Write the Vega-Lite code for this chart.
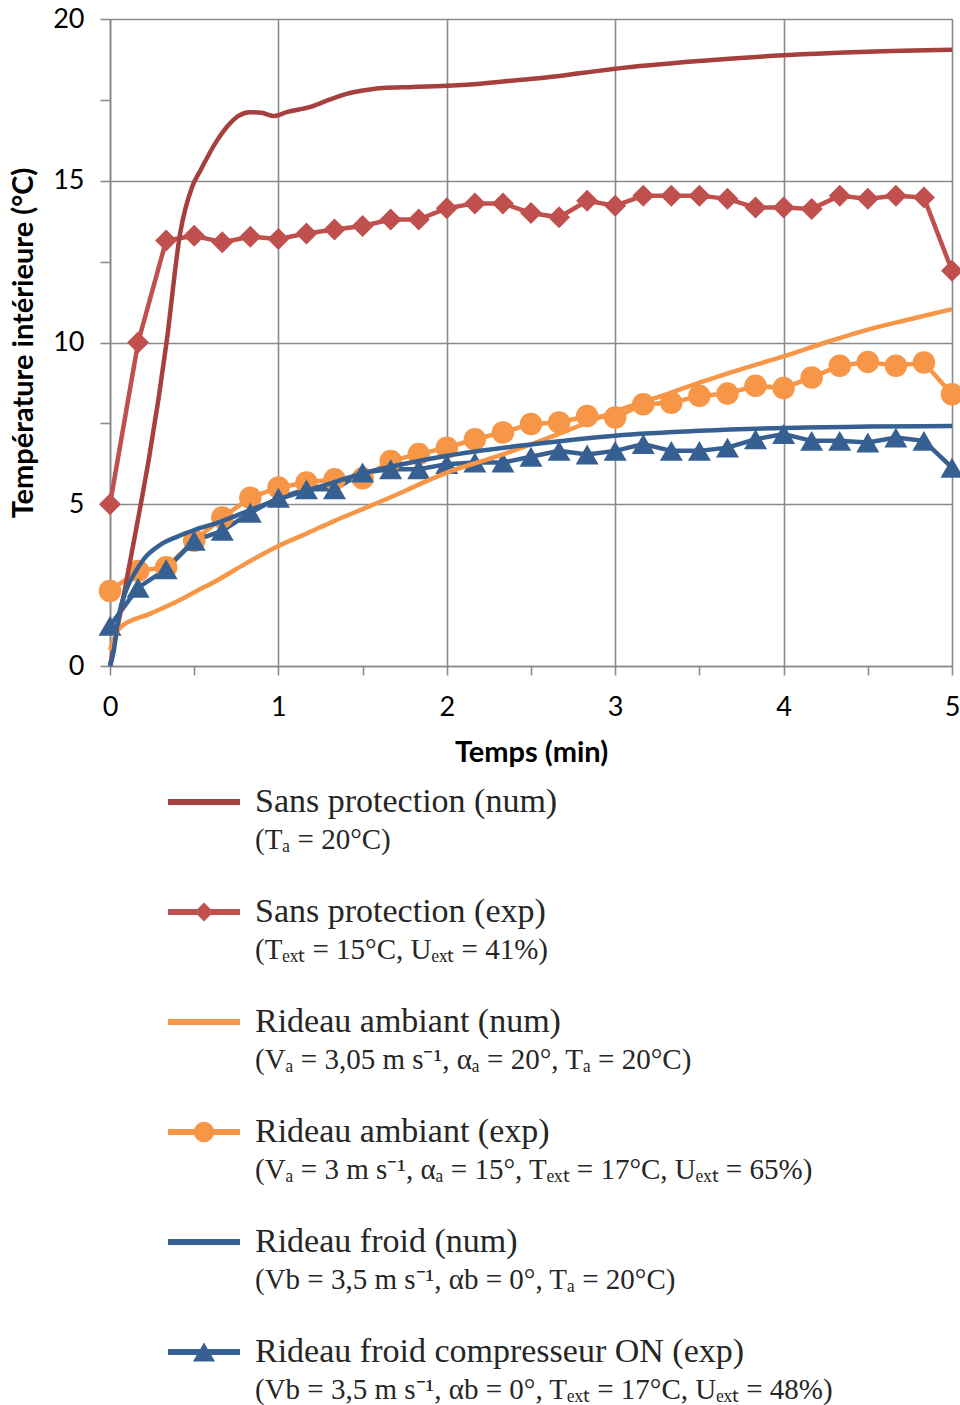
{
  "$schema": "https://vega.github.io/schema/vega-lite/v6.json",
  "background": "white",
  "padding": {"left": 9, "top": 5, "right": 0, "bottom": 0},
  "bounds": "flush",
  "spacing": 81,
  "config": {"view": {"stroke": null}},
  "resolve": {"scale": {"x": "independent", "y": "independent", "color": "independent", "shape": "independent", "size": "independent"}},
  "datasets": {
    "series": [
      {"serie": "Sans protection (num)", "kind": "num", "t": 0, "v": 0},
      {"serie": "Sans protection (num)", "kind": "num", "t": 0.09, "v": 2.42},
      {"serie": "Sans protection (num)", "kind": "num", "t": 0.337, "v": 10.05},
      {"serie": "Sans protection (num)", "kind": "num", "t": 0.416, "v": 13.36},
      {"serie": "Sans protection (num)", "kind": "num", "t": 0.487, "v": 14.8},
      {"serie": "Sans protection (num)", "kind": "num", "t": 0.535, "v": 15.3},
      {"serie": "Sans protection (num)", "kind": "num", "t": 0.635, "v": 16.24},
      {"serie": "Sans protection (num)", "kind": "num", "t": 0.7, "v": 16.7},
      {"serie": "Sans protection (num)", "kind": "num", "t": 0.76, "v": 17.0},
      {"serie": "Sans protection (num)", "kind": "num", "t": 0.83, "v": 17.12},
      {"serie": "Sans protection (num)", "kind": "num", "t": 0.9, "v": 17.1},
      {"serie": "Sans protection (num)", "kind": "num", "t": 0.97, "v": 17.0},
      {"serie": "Sans protection (num)", "kind": "num", "t": 1.05, "v": 17.12},
      {"serie": "Sans protection (num)", "kind": "num", "t": 1.2, "v": 17.3},
      {"serie": "Sans protection (num)", "kind": "num", "t": 1.3, "v": 17.5},
      {"serie": "Sans protection (num)", "kind": "num", "t": 1.4, "v": 17.68},
      {"serie": "Sans protection (num)", "kind": "num", "t": 1.5, "v": 17.79},
      {"serie": "Sans protection (num)", "kind": "num", "t": 1.62, "v": 17.87},
      {"serie": "Sans protection (num)", "kind": "num", "t": 1.8, "v": 17.9},
      {"serie": "Sans protection (num)", "kind": "num", "t": 2.0, "v": 17.94},
      {"serie": "Sans protection (num)", "kind": "num", "t": 2.2, "v": 18.0},
      {"serie": "Sans protection (num)", "kind": "num", "t": 2.4, "v": 18.1},
      {"serie": "Sans protection (num)", "kind": "num", "t": 2.6, "v": 18.2},
      {"serie": "Sans protection (num)", "kind": "num", "t": 2.8, "v": 18.33},
      {"serie": "Sans protection (num)", "kind": "num", "t": 3.0, "v": 18.46},
      {"serie": "Sans protection (num)", "kind": "num", "t": 3.5, "v": 18.7},
      {"serie": "Sans protection (num)", "kind": "num", "t": 4.0, "v": 18.88},
      {"serie": "Sans protection (num)", "kind": "num", "t": 4.5, "v": 18.99},
      {"serie": "Sans protection (num)", "kind": "num", "t": 5.0, "v": 19.05},

      {"serie": "Rideau ambiant (num)", "kind": "num", "t": 0, "v": 0.5},
      {"serie": "Rideau ambiant (num)", "kind": "num", "t": 0.06, "v": 1.19},
      {"serie": "Rideau ambiant (num)", "kind": "num", "t": 0.24, "v": 1.62},
      {"serie": "Rideau ambiant (num)", "kind": "num", "t": 0.4, "v": 2.0},
      {"serie": "Rideau ambiant (num)", "kind": "num", "t": 0.515, "v": 2.32},
      {"serie": "Rideau ambiant (num)", "kind": "num", "t": 0.63, "v": 2.63},
      {"serie": "Rideau ambiant (num)", "kind": "num", "t": 0.8, "v": 3.15},
      {"serie": "Rideau ambiant (num)", "kind": "num", "t": 1.0, "v": 3.71},
      {"serie": "Rideau ambiant (num)", "kind": "num", "t": 1.17, "v": 4.1},
      {"serie": "Rideau ambiant (num)", "kind": "num", "t": 1.33, "v": 4.48},
      {"serie": "Rideau ambiant (num)", "kind": "num", "t": 1.5, "v": 4.85},
      {"serie": "Rideau ambiant (num)", "kind": "num", "t": 1.66, "v": 5.2},
      {"serie": "Rideau ambiant (num)", "kind": "num", "t": 1.83, "v": 5.6},
      {"serie": "Rideau ambiant (num)", "kind": "num", "t": 2.0, "v": 5.98},
      {"serie": "Rideau ambiant (num)", "kind": "num", "t": 2.25, "v": 6.4},
      {"serie": "Rideau ambiant (num)", "kind": "num", "t": 2.5, "v": 6.85},
      {"serie": "Rideau ambiant (num)", "kind": "num", "t": 2.75, "v": 7.35},
      {"serie": "Rideau ambiant (num)", "kind": "num", "t": 3.0, "v": 7.87},
      {"serie": "Rideau ambiant (num)", "kind": "num", "t": 3.25, "v": 8.3},
      {"serie": "Rideau ambiant (num)", "kind": "num", "t": 3.5, "v": 8.76},
      {"serie": "Rideau ambiant (num)", "kind": "num", "t": 3.75, "v": 9.18},
      {"serie": "Rideau ambiant (num)", "kind": "num", "t": 4.0, "v": 9.57},
      {"serie": "Rideau ambiant (num)", "kind": "num", "t": 4.25, "v": 10.0},
      {"serie": "Rideau ambiant (num)", "kind": "num", "t": 4.5, "v": 10.4},
      {"serie": "Rideau ambiant (num)", "kind": "num", "t": 4.75, "v": 10.72},
      {"serie": "Rideau ambiant (num)", "kind": "num", "t": 5.0, "v": 11.03},

      {"serie": "Rideau froid (num)", "kind": "num", "t": 0, "v": 0},
      {"serie": "Rideau froid (num)", "kind": "num", "t": 0.02, "v": 0.4},
      {"serie": "Rideau froid (num)", "kind": "num", "t": 0.05, "v": 1.5},
      {"serie": "Rideau froid (num)", "kind": "num", "t": 0.1, "v": 2.4},
      {"serie": "Rideau froid (num)", "kind": "num", "t": 0.15, "v": 2.9},
      {"serie": "Rideau froid (num)", "kind": "num", "t": 0.2, "v": 3.3},
      {"serie": "Rideau froid (num)", "kind": "num", "t": 0.3, "v": 3.75},
      {"serie": "Rideau froid (num)", "kind": "num", "t": 0.4, "v": 4.0},
      {"serie": "Rideau froid (num)", "kind": "num", "t": 0.5, "v": 4.2},
      {"serie": "Rideau froid (num)", "kind": "num", "t": 0.65, "v": 4.45},
      {"serie": "Rideau froid (num)", "kind": "num", "t": 0.8, "v": 4.75},
      {"serie": "Rideau froid (num)", "kind": "num", "t": 1.0, "v": 5.15},
      {"serie": "Rideau froid (num)", "kind": "num", "t": 1.25, "v": 5.55},
      {"serie": "Rideau froid (num)", "kind": "num", "t": 1.5, "v": 5.95},
      {"serie": "Rideau froid (num)", "kind": "num", "t": 1.75, "v": 6.25},
      {"serie": "Rideau froid (num)", "kind": "num", "t": 2.0, "v": 6.5},
      {"serie": "Rideau froid (num)", "kind": "num", "t": 2.5, "v": 6.85},
      {"serie": "Rideau froid (num)", "kind": "num", "t": 3.0, "v": 7.12},
      {"serie": "Rideau froid (num)", "kind": "num", "t": 3.5, "v": 7.27},
      {"serie": "Rideau froid (num)", "kind": "num", "t": 4.0, "v": 7.36},
      {"serie": "Rideau froid (num)", "kind": "num", "t": 4.5, "v": 7.4},
      {"serie": "Rideau froid (num)", "kind": "num", "t": 5.0, "v": 7.42},

      {"serie": "Sans protection (exp)", "kind": "exp", "t": 0, "v": 5.0},
      {"serie": "Sans protection (exp)", "kind": "exp", "t": 0.1667, "v": 10.0},
      {"serie": "Sans protection (exp)", "kind": "exp", "t": 0.3333, "v": 13.15},
      {"serie": "Sans protection (exp)", "kind": "exp", "t": 0.5, "v": 13.3},
      {"serie": "Sans protection (exp)", "kind": "exp", "t": 0.6667, "v": 13.1},
      {"serie": "Sans protection (exp)", "kind": "exp", "t": 0.8333, "v": 13.27},
      {"serie": "Sans protection (exp)", "kind": "exp", "t": 1, "v": 13.2},
      {"serie": "Sans protection (exp)", "kind": "exp", "t": 1.1667, "v": 13.37},
      {"serie": "Sans protection (exp)", "kind": "exp", "t": 1.3333, "v": 13.49},
      {"serie": "Sans protection (exp)", "kind": "exp", "t": 1.5, "v": 13.6},
      {"serie": "Sans protection (exp)", "kind": "exp", "t": 1.6667, "v": 13.8},
      {"serie": "Sans protection (exp)", "kind": "exp", "t": 1.8333, "v": 13.8},
      {"serie": "Sans protection (exp)", "kind": "exp", "t": 2, "v": 14.15},
      {"serie": "Sans protection (exp)", "kind": "exp", "t": 2.1667, "v": 14.3},
      {"serie": "Sans protection (exp)", "kind": "exp", "t": 2.3333, "v": 14.3},
      {"serie": "Sans protection (exp)", "kind": "exp", "t": 2.5, "v": 14.0},
      {"serie": "Sans protection (exp)", "kind": "exp", "t": 2.6667, "v": 13.87},
      {"serie": "Sans protection (exp)", "kind": "exp", "t": 2.8333, "v": 14.38},
      {"serie": "Sans protection (exp)", "kind": "exp", "t": 3, "v": 14.23},
      {"serie": "Sans protection (exp)", "kind": "exp", "t": 3.1667, "v": 14.54},
      {"serie": "Sans protection (exp)", "kind": "exp", "t": 3.3333, "v": 14.54},
      {"serie": "Sans protection (exp)", "kind": "exp", "t": 3.5, "v": 14.54},
      {"serie": "Sans protection (exp)", "kind": "exp", "t": 3.6667, "v": 14.44},
      {"serie": "Sans protection (exp)", "kind": "exp", "t": 3.8333, "v": 14.17},
      {"serie": "Sans protection (exp)", "kind": "exp", "t": 4, "v": 14.17},
      {"serie": "Sans protection (exp)", "kind": "exp", "t": 4.1667, "v": 14.13},
      {"serie": "Sans protection (exp)", "kind": "exp", "t": 4.3333, "v": 14.54},
      {"serie": "Sans protection (exp)", "kind": "exp", "t": 4.5, "v": 14.44},
      {"serie": "Sans protection (exp)", "kind": "exp", "t": 4.6667, "v": 14.54},
      {"serie": "Sans protection (exp)", "kind": "exp", "t": 4.8333, "v": 14.48},
      {"serie": "Sans protection (exp)", "kind": "exp", "t": 5, "v": 12.22},

      {"serie": "Rideau ambiant (exp)", "kind": "exp", "t": 0, "v": 2.32},
      {"serie": "Rideau ambiant (exp)", "kind": "exp", "t": 0.1667, "v": 2.94},
      {"serie": "Rideau ambiant (exp)", "kind": "exp", "t": 0.3333, "v": 3.05},
      {"serie": "Rideau ambiant (exp)", "kind": "exp", "t": 0.5, "v": 3.87},
      {"serie": "Rideau ambiant (exp)", "kind": "exp", "t": 0.6667, "v": 4.59},
      {"serie": "Rideau ambiant (exp)", "kind": "exp", "t": 0.8333, "v": 5.2},
      {"serie": "Rideau ambiant (exp)", "kind": "exp", "t": 1, "v": 5.52},
      {"serie": "Rideau ambiant (exp)", "kind": "exp", "t": 1.1667, "v": 5.67},
      {"serie": "Rideau ambiant (exp)", "kind": "exp", "t": 1.3333, "v": 5.77},
      {"serie": "Rideau ambiant (exp)", "kind": "exp", "t": 1.5, "v": 5.8},
      {"serie": "Rideau ambiant (exp)", "kind": "exp", "t": 1.6667, "v": 6.34},
      {"serie": "Rideau ambiant (exp)", "kind": "exp", "t": 1.8333, "v": 6.55},
      {"serie": "Rideau ambiant (exp)", "kind": "exp", "t": 2, "v": 6.75},
      {"serie": "Rideau ambiant (exp)", "kind": "exp", "t": 2.1667, "v": 7.01},
      {"serie": "Rideau ambiant (exp)", "kind": "exp", "t": 2.3333, "v": 7.22},
      {"serie": "Rideau ambiant (exp)", "kind": "exp", "t": 2.5, "v": 7.48},
      {"serie": "Rideau ambiant (exp)", "kind": "exp", "t": 2.6667, "v": 7.53},
      {"serie": "Rideau ambiant (exp)", "kind": "exp", "t": 2.8333, "v": 7.73},
      {"serie": "Rideau ambiant (exp)", "kind": "exp", "t": 3, "v": 7.68},
      {"serie": "Rideau ambiant (exp)", "kind": "exp", "t": 3.1667, "v": 8.09},
      {"serie": "Rideau ambiant (exp)", "kind": "exp", "t": 3.3333, "v": 8.14},
      {"serie": "Rideau ambiant (exp)", "kind": "exp", "t": 3.5, "v": 8.35},
      {"serie": "Rideau ambiant (exp)", "kind": "exp", "t": 3.6667, "v": 8.42},
      {"serie": "Rideau ambiant (exp)", "kind": "exp", "t": 3.8333, "v": 8.66},
      {"serie": "Rideau ambiant (exp)", "kind": "exp", "t": 4, "v": 8.59},
      {"serie": "Rideau ambiant (exp)", "kind": "exp", "t": 4.1667, "v": 8.92},
      {"serie": "Rideau ambiant (exp)", "kind": "exp", "t": 4.3333, "v": 9.28},
      {"serie": "Rideau ambiant (exp)", "kind": "exp", "t": 4.5, "v": 9.4},
      {"serie": "Rideau ambiant (exp)", "kind": "exp", "t": 4.6667, "v": 9.28},
      {"serie": "Rideau ambiant (exp)", "kind": "exp", "t": 4.8333, "v": 9.38},
      {"serie": "Rideau ambiant (exp)", "kind": "exp", "t": 5, "v": 8.4},

      {"serie": "Rideau froid compresseur ON (exp)", "kind": "exp", "t": 0, "v": 1.24},
      {"serie": "Rideau froid compresseur ON (exp)", "kind": "exp", "t": 0.1667, "v": 2.42},
      {"serie": "Rideau froid compresseur ON (exp)", "kind": "exp", "t": 0.3333, "v": 2.99},
      {"serie": "Rideau froid compresseur ON (exp)", "kind": "exp", "t": 0.5, "v": 3.87},
      {"serie": "Rideau froid compresseur ON (exp)", "kind": "exp", "t": 0.6667, "v": 4.18},
      {"serie": "Rideau froid compresseur ON (exp)", "kind": "exp", "t": 0.8333, "v": 4.74},
      {"serie": "Rideau froid compresseur ON (exp)", "kind": "exp", "t": 1, "v": 5.2},
      {"serie": "Rideau froid compresseur ON (exp)", "kind": "exp", "t": 1.1667, "v": 5.46},
      {"serie": "Rideau froid compresseur ON (exp)", "kind": "exp", "t": 1.3333, "v": 5.46},
      {"serie": "Rideau froid compresseur ON (exp)", "kind": "exp", "t": 1.5, "v": 5.98},
      {"serie": "Rideau froid compresseur ON (exp)", "kind": "exp", "t": 1.6667, "v": 6.08},
      {"serie": "Rideau froid compresseur ON (exp)", "kind": "exp", "t": 1.8333, "v": 6.08},
      {"serie": "Rideau froid compresseur ON (exp)", "kind": "exp", "t": 2, "v": 6.24},
      {"serie": "Rideau froid compresseur ON (exp)", "kind": "exp", "t": 2.1667, "v": 6.29},
      {"serie": "Rideau froid compresseur ON (exp)", "kind": "exp", "t": 2.3333, "v": 6.29},
      {"serie": "Rideau froid compresseur ON (exp)", "kind": "exp", "t": 2.5, "v": 6.47},
      {"serie": "Rideau froid compresseur ON (exp)", "kind": "exp", "t": 2.6667, "v": 6.65},
      {"serie": "Rideau froid compresseur ON (exp)", "kind": "exp", "t": 2.8333, "v": 6.54},
      {"serie": "Rideau froid compresseur ON (exp)", "kind": "exp", "t": 3, "v": 6.65},
      {"serie": "Rideau froid compresseur ON (exp)", "kind": "exp", "t": 3.1667, "v": 6.86},
      {"serie": "Rideau froid compresseur ON (exp)", "kind": "exp", "t": 3.3333, "v": 6.65},
      {"serie": "Rideau froid compresseur ON (exp)", "kind": "exp", "t": 3.5, "v": 6.65},
      {"serie": "Rideau froid compresseur ON (exp)", "kind": "exp", "t": 3.6667, "v": 6.75},
      {"serie": "Rideau froid compresseur ON (exp)", "kind": "exp", "t": 3.8333, "v": 7.01},
      {"serie": "Rideau froid compresseur ON (exp)", "kind": "exp", "t": 4, "v": 7.17},
      {"serie": "Rideau froid compresseur ON (exp)", "kind": "exp", "t": 4.1667, "v": 6.96},
      {"serie": "Rideau froid compresseur ON (exp)", "kind": "exp", "t": 4.3333, "v": 6.96},
      {"serie": "Rideau froid compresseur ON (exp)", "kind": "exp", "t": 4.5, "v": 6.91},
      {"serie": "Rideau froid compresseur ON (exp)", "kind": "exp", "t": 4.6667, "v": 7.06},
      {"serie": "Rideau froid compresseur ON (exp)", "kind": "exp", "t": 4.8333, "v": 6.96},
      {"serie": "Rideau froid compresseur ON (exp)", "kind": "exp", "t": 5, "v": 6.13}
    ],
    "legend": [
      {"entry": 1, "serie": "Sans protection (num)", "kind": "num", "line2": "(Tₐ = 20°C)"},
      {"entry": 2, "serie": "Sans protection (exp)", "kind": "exp", "line2": "(Tₑₓₜ = 15°C, Uₑₓₜ = 41%)"},
      {"entry": 3, "serie": "Rideau ambiant (num)", "kind": "num", "line2": "(Vₐ = 3,05 m s⁻¹, αₐ = 20°, Tₐ = 20°C)"},
      {"entry": 4, "serie": "Rideau ambiant (exp)", "kind": "exp", "line2": "(Vₐ = 3 m s⁻¹, αₐ = 15°, Tₑₓₜ = 17°C, Uₑₓₜ = 65%)"},
      {"entry": 5, "serie": "Rideau froid (num)", "kind": "num", "line2": "(Vb = 3,5 m s⁻¹, αb = 0°, Tₐ = 20°C)"},
      {"entry": 6, "serie": "Rideau froid compresseur ON (exp)", "kind": "exp", "line2": "(Vb = 3,5 m s⁻¹, αb = 0°, Tₑₓₜ = 17°C, Uₑₓₜ = 48%)"}
    ]
  },
  "vconcat": [
    {
      "width": 842,
      "height": 647,
      "data": {"name": "series"},
      "encoding": {
        "x": {
          "field": "t", "type": "quantitative",
          "scale": {"domain": [0, 5], "nice": false, "zero": false},
          "axis": {
            "title": "Temps (min)",
            "values": [0, 0.5, 1, 1.5, 2, 2.5, 3, 3.5, 4, 4.5, 5],
            "labelExpr": "datum.value % 1 === 0 ? format(datum.value, 'd') : ''",
            "grid": true,
            "gridColor": "#8a8a8a", "gridWidth": 1.6,
            "gridOpacity": {"condition": {"test": "datum.value % 1 !== 0", "value": 0}, "value": 1},
            "tickColor": "#8a8a8a", "tickWidth": 1.6, "tickSize": 9,
            "domainColor": "#8a8a8a", "domainWidth": 1.6,
            "labelFont": "Lato", "labelFontSize": 27, "labelColor": "#000000", "labelPadding": 19,
            "labelFlush": false, "labelOverlap": false,
            "titleFont": "Lato", "titleFontSize": 29, "titleFontWeight": "bold", "titleColor": "#000000", "titlePadding": 18
          }
        },
        "y": {
          "field": "v", "type": "quantitative",
          "scale": {"domain": [0, 20], "nice": false, "zero": false},
          "axis": {
            "title": "Température intérieure (°C)",
            "values": [0, 2.5, 5, 7.5, 10, 12.5, 15, 17.5, 20],
            "labelExpr": "datum.value % 5 === 0 ? format(datum.value, 'd') : ''",
            "grid": true,
            "gridColor": "#8a8a8a", "gridWidth": 1.6,
            "gridOpacity": {"condition": {"test": "datum.value % 5 !== 0", "value": 0}, "value": 1},
            "tickColor": "#8a8a8a", "tickWidth": 1.6, "tickSize": 10,
            "domainColor": "#8a8a8a", "domainWidth": 1.6,
            "labelFont": "Lato", "labelFontSize": 27, "labelColor": "#000000", "labelPadding": 16,
            "labelFlush": false, "labelOverlap": false,
            "titleFont": "Lato", "titleFontSize": 29, "titleFontWeight": "bold", "titleColor": "#000000", "titlePadding": 14
          }
        },
        "color": {
          "field": "serie", "type": "nominal", "legend": null,
          "scale": {
            "domain": ["Sans protection (num)", "Sans protection (exp)", "Rideau ambiant (num)", "Rideau ambiant (exp)", "Rideau froid (num)", "Rideau froid compresseur ON (exp)"],
            "range": ["#A5403E", "#C0504D", "#F79646", "#F79646", "#376092", "#376092"]
          }
        }
      },
      "layer": [
        {
          "transform": [{"filter": "datum.kind === 'exp'"}],
          "mark": {"type": "line", "strokeWidth": 4.5}
        },
        {
          "transform": [{"filter": "datum.kind === 'exp'"}],
          "mark": {"type": "point", "filled": true, "opacity": 1},
          "encoding": {
            "shape": {
              "field": "serie", "type": "nominal", "legend": null,
              "scale": {"domain": ["Sans protection (exp)", "Rideau ambiant (exp)", "Rideau froid compresseur ON (exp)"], "range": ["diamond", "circle", "triangle-up"]}
            },
            "size": {
              "field": "serie", "type": "nominal", "legend": null,
              "scale": {"domain": ["Sans protection (exp)", "Rideau ambiant (exp)", "Rideau froid compresseur ON (exp)"], "range": [484, 530, 640]}
            }
          }
        },
        {
          "transform": [{"filter": "datum.kind === 'num'"}],
          "mark": {"type": "line", "strokeWidth": 4.5, "interpolate": "monotone"}
        }
      ]
    },
    {
      "width": 842,
      "height": 660,
      "data": {"name": "legend"},
      "encoding": {
        "y": {"field": "entry", "type": "quantitative", "scale": {"domain": [0.5, 6.5], "reverse": true, "nice": false, "zero": false}, "axis": null},
        "color": {
          "field": "serie", "type": "nominal", "legend": null,
          "scale": {
            "domain": ["Sans protection (num)", "Sans protection (exp)", "Rideau ambiant (num)", "Rideau ambiant (exp)", "Rideau froid (num)", "Rideau froid compresseur ON (exp)"],
            "range": ["#A5403E", "#C0504D", "#F79646", "#F79646", "#376092", "#376092"]
          }
        }
      },
      "layer": [
        {
          "mark": {"type": "rule", "strokeWidth": 6},
          "encoding": {
            "x": {"datum": 58, "type": "quantitative", "scale": {"domain": [0, 842], "nice": false, "zero": false}, "axis": null},
            "x2": {"datum": 130}
          }
        },
        {
          "transform": [{"filter": "datum.kind === 'exp'"}],
          "mark": {"type": "point", "filled": true, "opacity": 1},
          "encoding": {
            "x": {"datum": 94, "type": "quantitative"},
            "shape": {
              "field": "serie", "type": "nominal", "legend": null,
              "scale": {"domain": ["Sans protection (exp)", "Rideau ambiant (exp)", "Rideau froid compresseur ON (exp)"], "range": ["diamond", "circle", "triangle-up"]}
            },
            "size": {
              "field": "serie", "type": "nominal", "legend": null,
              "scale": {"domain": ["Sans protection (exp)", "Rideau ambiant (exp)", "Rideau froid compresseur ON (exp)"], "range": [360, 480, 600]}
            }
          }
        },
        {
          "mark": {"type": "text", "align": "left", "baseline": "middle", "font": "Liberation Serif", "fontSize": 34},
          "encoding": {
            "x": {"datum": 145, "type": "quantitative"},
            "text": {"field": "serie"},
            "color": {"value": "#262626"}
          }
        },
        {
          "mark": {"type": "text", "align": "left", "baseline": "middle", "font": "Liberation Serif", "fontSize": 29, "dy": 38},
          "encoding": {
            "x": {"datum": 145, "type": "quantitative"},
            "text": {"field": "line2"},
            "color": {"value": "#262626"}
          }
        }
      ]
    }
  ]
}
